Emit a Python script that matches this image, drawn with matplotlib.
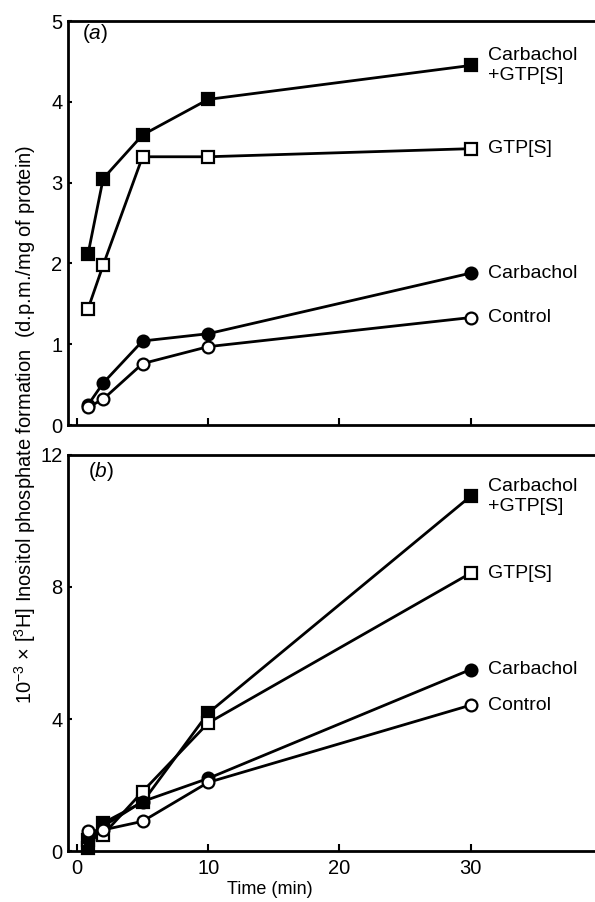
import matplotlib
matplotlib.use("Agg")
import matplotlib.pyplot as plt

plt.rcParams['font.family'] = ['Liberation Sans', 'DejaVu Sans']
plt.rcParams['mathtext.fontset'] = 'custom'
plt.rcParams['mathtext.rm'] = 'Liberation Sans'
plt.rcParams['mathtext.it'] = 'Liberation Sans:italic'

# time points (min)
time = [0.85, 2, 5, 10, 30]

# panel (a)
a_carb_gtp = [2.12, 3.05, 3.59, 4.03, 4.45]
a_gtp = [1.44, 1.98, 3.32, 3.32, 3.42]
a_carb = [0.25, 0.52, 1.04, 1.13, 1.88]
a_control = [0.22, 0.32, 0.76, 0.97, 1.33]

# panel (b)
b_carb_gtp = [0.1, 0.85, 1.48, 4.18, 10.75]
b_gtp = [0.33, 0.5, 1.8, 3.88, 8.42]
b_carb = [0.35, 0.75, 1.5, 2.2, 5.5]
b_control = [0.6, 0.64, 0.9, 2.08, 4.42]

labels = ["Carbachol\n+GTP[S]", "GTP[S]", "Carbachol", "Control"]
markers = ['s', 's', 'o', 'o']
fills = ['black', 'white', 'black', 'white']

fig = plt.figure(figsize=(5.95, 9.02), dpi=100)
ax1 = fig.add_axes([0.1143, 0.5288, 0.884, 0.4479])
ax2 = fig.add_axes([0.1143, 0.0565, 0.884, 0.4391])


def draw(ax, series, ylim, yticks, tag, tagpos, showx):
    for vals, lab, m, fc in zip(series, labels, markers, fills):
        ax.plot(time, vals, color='black', lw=2.0, marker=m, ms=9 if m == 's' else 8.5,
                mfc=fc, mec='black', mew=1.6, zorder=3, clip_on=False)
        ax.text(31.3, vals[-1], lab, fontsize=14, va='center', ha='left',
                linespacing=1.25)
    ax.set_xlim(-0.68, 39.4)
    ax.set_ylim(*ylim)
    ax.set_yticks(yticks)
    ax.set_xticks([0, 10, 20, 30])
    ax.spines['right'].set_visible(False)
    for s in ['left', 'bottom', 'top']:
        ax.spines[s].set_linewidth(2.0)
    ax.tick_params(axis='x', direction='in', length=5, width=1.5, pad=6, labelsize=14.5)
    ax.tick_params(axis='y', direction='in', length=3, width=1.5, pad=4, labelsize=14.5)
    if not showx:
        ax.tick_params(axis='x', labelbottom=False)
    ax.text(tagpos[0], tagpos[1], tag, transform=ax.transAxes, fontsize=15,
            ha='left', va='center')


draw(ax1, [a_carb_gtp, a_gtp, a_carb, a_control], (0, 5), [0, 1, 2, 3, 4, 5],
     r'$(\mathit{a})$', (0.027, 0.970), False)
draw(ax2, [b_carb_gtp, b_gtp, b_carb, b_control], (0, 12), [0, 4, 8, 12],
     r'$(\mathit{b})$', (0.038, 0.957), True)

fig.text(0.454, 0.004, 'Time (min)', fontsize=13, ha='center', va='bottom')
fig.text(0.042, 0.529,
         r'10$^{-3}$ $\times$ [$^{3}$H] Inositol phosphate formation  (d.p.m./mg of protein)',
         fontsize=14.5, rotation=90, ha='center', va='center')

fig.savefig('out.png', dpi=100)
